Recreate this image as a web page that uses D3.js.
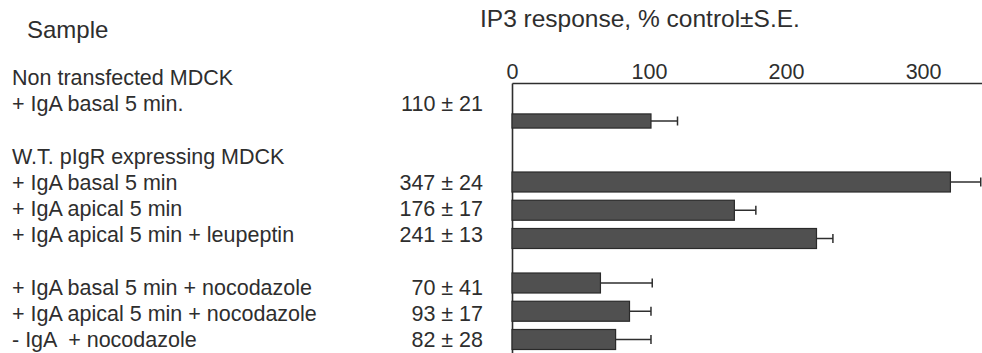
<!DOCTYPE html>
<html>
<head>
<meta charset="utf-8">
<script src="https://cdn.jsdelivr.net/npm/d3@7/dist/d3.min.js"></script>
<style>
  html, body { margin: 0; padding: 0; background: #fff; }
  svg { display: block; }
  text { font-family: "Liberation Sans", Arial, Helvetica, sans-serif; fill: #2e2e2e; white-space: pre; }
</style>
</head>
<body>
<svg id="chart" width="982" height="353"></svg>
<script>
// IP3 response per sample, % of control, with standard error
const groupTitles = ["Non transfected MDCK", "W.T. pIgR expressing MDCK", ""];
const samples = [
  "+ IgA basal 5 min.",
  "+ IgA basal 5 min",
  "+ IgA apical 5 min",
  "+ IgA apical 5 min + leupeptin",
  "+ IgA basal 5 min + nocodazole",
  "+ IgA apical 5 min + nocodazole",
  "- IgA  + nocodazole"
];
const sampleGroup = [0, 1, 1, 1, 2, 2, 2];
const responses = [110, 347, 176, 241, 70, 93, 82];
const stdErrors = [21, 24, 17, 13, 41, 17, 28];
const tickValues = [0, 100, 200, 300];

const svg = d3.select("#chart");
const W = 982, H = 353;
const FONT = 21.5;
const ink = "#2e2e2e";

// Horizontal scales: bars and the printed scale along the top
const x = d3.scaleLinear().domain([0, 372]).range([512, W]);
const xAxisScale = d3.scaleLinear().domain([0, 343]).range([512, W]);
const axisY = 83;

// Text rows: group title lines followed by their sample lines, one blank line between groups
const lines = [];
let lineIdx = 0;
groupTitles.forEach((g, gi) => {
  if (g) lines.push({ kind: "title", text: g, line: lineIdx++ });
  samples.forEach((s, i) => {
    if (sampleGroup[i] === gi) lines.push({ kind: "sample", text: s, index: i, line: lineIdx++ });
  });
  lineIdx++;
});
const yLine = d3.scaleLinear().domain([0, 1]).range([77.5, 77.5 + 26.2]);

// Bar blocks, one band scale per group
const barBlockTop = [111, 172, 273];
const barPitch = 28.25, barH = 20;
const yBar = {};
groupTitles.forEach((g, gi) => {
  const idx = samples.map((s, i) => i).filter(i => sampleGroup[i] === gi);
  const band = d3.scaleBand().domain(idx)
    .range([barBlockTop[gi], barBlockTop[gi] + idx.length * barPitch - (barPitch - barH)])
    .paddingInner((barPitch - barH) / barPitch).paddingOuter(0);
  idx.forEach(i => { yBar[i] = band; });
});

// Headers
svg.append("text").attr("x", 27).attr("y", 38)
  .style("font-size", "24px").text("Sample");
svg.append("text").attr("x", 480).attr("y", 27)
  .style("font-size", "24.5px").text("IP3 response, % control\u00B1S.E.");

// Left labels
svg.append("g").selectAll("text").data(lines).join("text")
  .attr("x", 12)
  .attr("y", d => yLine(d.line) + FONT * 0.36)
  .style("font-size", FONT + "px")
  .text(d => d.text);

// Value column
svg.append("g").selectAll("text").data(lines.filter(d => d.kind === "sample")).join("text")
  .attr("x", 483)
  .attr("y", d => yLine(d.line) + FONT * 0.36)
  .attr("text-anchor", "end")
  .style("font-size", FONT + "px")
  .text(d => `${responses[d.index]} \u00B1 ${stdErrors[d.index]}`);

// Top axis
const gx = svg.append("g").attr("transform", `translate(0,${axisY})`)
  .call(d3.axisTop(xAxisScale).tickValues(tickValues).tickSizeInner(0).tickSizeOuter(0).tickPadding(4));
gx.select(".domain").attr("stroke", ink).attr("stroke-width", 1.6);
gx.selectAll("text").attr("fill", ink)
  .style("font-family", '"Liberation Sans", Arial, sans-serif').style("font-size", FONT + "px");

// Left baseline of the bars
const yAxisScale = d3.scaleLinear().domain([0, 1]).range([axisY, H]);
const gy = svg.append("g").attr("transform", `translate(${x(0)},0)`)
  .call(d3.axisLeft(yAxisScale).tickValues([]).tickSizeOuter(0));
gy.select(".domain").attr("stroke", ink).attr("stroke-width", 1.6);

// Bars
const idxs = samples.map((s, i) => i);
svg.append("g").selectAll("rect").data(idxs).join("rect")
  .attr("x", x(0))
  .attr("y", i => yBar[i](i))
  .attr("width", i => x(responses[i]) - x(0))
  .attr("height", i => yBar[i].bandwidth())
  .attr("fill", "#505050")
  .attr("stroke", "#2a2a2a")
  .attr("stroke-width", 1.2);

// Error bars
const eb = svg.append("g").attr("stroke", ink).attr("stroke-width", 1.5);
eb.selectAll("line.whisker").data(idxs).join("line").attr("class", "whisker")
  .attr("x1", i => x(responses[i]))
  .attr("x2", i => x(responses[i] + stdErrors[i]))
  .attr("y1", i => yBar[i](i) + yBar[i].bandwidth() / 2)
  .attr("y2", i => yBar[i](i) + yBar[i].bandwidth() / 2);
eb.selectAll("line.cap").data(idxs).join("line").attr("class", "cap")
  .attr("x1", i => x(responses[i] + stdErrors[i]))
  .attr("x2", i => x(responses[i] + stdErrors[i]))
  .attr("y1", i => yBar[i](i) + yBar[i].bandwidth() / 2 - 4.5)
  .attr("y2", i => yBar[i](i) + yBar[i].bandwidth() / 2 + 4.5);
</script>
</body>
</html>
